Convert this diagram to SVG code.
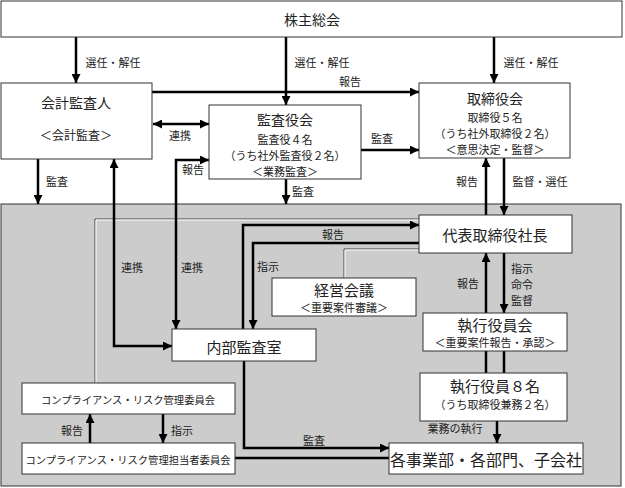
<svg xmlns="http://www.w3.org/2000/svg" width="625" height="488" viewBox="0 0 625 488">
<style>
text{font-family:"Noto Sans CJK JP","Noto Sans CJK SC",sans-serif;fill:#222;text-anchor:middle;dominant-baseline:central}
.box{fill:#fff;stroke:#333;stroke-width:1}
.t14{font-size:14px}.t15{font-size:15px}.t16{font-size:16px}.t12{font-size:12px}.t11{font-size:11px}.t10{font-size:10.3px}.lb{font-size:11px}
.ar{fill:none;stroke:#000;stroke-width:2.5}
.ld{fill:none;stroke:#444;stroke-width:1}
.lw{fill:none;stroke:#fff;stroke-width:1}
</style>
<defs>
<marker id="ah" viewBox="0 0 10 10" refX="10" refY="5" markerWidth="9" markerHeight="9" markerUnits="userSpaceOnUse" orient="auto-start-reverse"><path d="M0,0 L10,5 L0,10 z" fill="#000"/></marker>
</defs>
<rect id="area" x="1" y="204" width="620" height="282" fill="#cccccc" stroke="#333" stroke-width="1"/>
<g id="light-lines">
<path class="ld" d="M95,383 V219 H419"/>
<path class="lw" d="M96,383 V220 H419"/>
<path class="ld" d="M344,278 V249 H419"/>
<path class="lw" d="M345,278 V250 H419"/>
</g>
<g id="connectors">
<path class="ar" d="M76,37 V83" marker-end="url(#ah)"/>
<path class="ar" d="M286,37 V105" marker-end="url(#ah)"/>
<path class="ar" d="M494,37 V83" marker-end="url(#ah)"/>
<path class="ar" d="M152,92 H419" marker-end="url(#ah)"/>
<path class="ar" d="M153,124 H209" marker-start="url(#ah)" marker-end="url(#ah)"/>
<path class="ar" d="M361,150 H419" marker-end="url(#ah)"/>
<path class="ar" d="M38,159 V204" marker-end="url(#ah)"/>
<path class="ar" d="M286,179 V204" marker-end="url(#ah)"/>
<path class="ar" d="M486,215 V158" marker-end="url(#ah)"/>
<path class="ar" d="M504,158 V215" marker-end="url(#ah)"/>
<path class="ar" d="M114,159 V346 H172" marker-start="url(#ah)" marker-end="url(#ah)"/>
<path class="ar" d="M176,329 V160 H209" marker-start="url(#ah)" marker-end="url(#ah)"/>
<path class="ar" d="M243,329 V225 H419" marker-end="url(#ah)"/>
<path class="ar" d="M419,243 H253 V329" marker-end="url(#ah)"/>
<path class="ar" d="M486,313 V253" marker-end="url(#ah)"/>
<path class="ar" d="M504,253 V313" marker-end="url(#ah)"/>
<path class="ar" d="M486,351 V373 M504,351 V373"/>
<path class="ar" d="M497,421 V443" marker-end="url(#ah)"/>
<path class="ar" d="M244,361 V448 H389" marker-end="url(#ah)"/>
<path class="ar" d="M235,458 H389"/>
<path class="ar" d="M90,443 V414" marker-end="url(#ah)"/>
<path class="ar" d="M163,414 V443" marker-end="url(#ah)"/>
</g>
<g id="labels">
<text class="lb" x="113" y="62">選任・解任</text>
<text class="lb" x="322" y="62">選任・解任</text>
<text class="lb" x="531" y="62">選任・解任</text>
<text class="lb" x="350" y="81">報告</text>
<text class="lb" x="180" y="135">連携</text>
<text class="lb" x="382" y="138">監査</text>
<text class="lb" x="57" y="181">監査</text>
<text class="lb" x="303" y="191">監査</text>
<text class="lb" x="467" y="181">報告</text>
<text class="lb" x="540" y="181">監督・選任</text>
<text class="lb" x="193" y="169">報告</text>
<text class="lb" x="132" y="267">連携</text>
<text class="lb" x="192" y="267">連携</text>
<text class="lb" x="333" y="234">報告</text>
<text class="lb" x="268" y="266">指示</text>
<text class="lb" x="468" y="283">報告</text>
<text class="lb" x="522" y="268">指示</text>
<text class="lb" x="522" y="284">命令</text>
<text class="lb" x="522" y="300">監督</text>
<text class="lb" x="72" y="430">報告</text>
<text class="lb" x="182" y="430">指示</text>
<text class="lb" x="314" y="440">監査</text>
<text class="lb" x="455" y="428">業務の執行</text>
</g>
<g id="n-kabunushi"><rect class="box" x="1" y="1" width="621" height="36"/><text class="t14" x="312" y="19">株主総会</text></g>
<g id="n-kaikei"><rect class="box" x="1" y="83" width="151" height="76"/><text class="t14" x="76" y="102">会計監査人</text><text class="t12" x="76" y="134">＜会計監査＞</text></g>
<g id="n-kansayaku"><rect class="box" x="209" y="105" width="152" height="74"/><text class="t14" x="285" y="119">監査役会</text><text class="t11" x="285" y="139">監査役４名</text><text class="t11" x="285" y="155">（うち社外監査役２名）</text><text class="t11" x="285" y="171">＜業務監査＞</text></g>
<g id="n-torishimariyaku"><rect class="box" x="419" y="83" width="151" height="75"/><text class="t14" x="495" y="98">取締役会</text><text class="t11" x="495" y="117">取締役５名</text><text class="t11" x="495" y="133">（うち社外取締役２名）</text><text class="t11" x="495" y="149">＜意思決定・監督＞</text></g>
<g id="n-daihyo"><rect class="box" x="419" y="215" width="153" height="38"/><text class="t15" x="495" y="234">代表取締役社長</text></g>
<g id="n-keiei"><rect class="box" x="272" y="278" width="144" height="38"/><text class="t15" x="344" y="289">経営会議</text><text class="t11" x="344" y="307">＜重要案件審議＞</text></g>
<g id="n-shikkoukai"><rect class="box" x="423" y="313" width="144" height="38"/><text class="t15" x="495" y="324">執行役員会</text><text class="t11" x="495" y="342">＜重要案件報告・承認＞</text></g>
<g id="n-naibu"><rect class="box" x="172" y="329" width="144" height="32"/><text class="t15" x="244" y="346">内部監査室</text></g>
<g id="n-shikkou8"><rect class="box" x="420" y="373" width="147" height="48"/><text class="t15" x="495" y="385">執行役員８名</text><text class="t11" x="495" y="404">（うち取締役兼務２名）</text></g>
<g id="n-comp"><rect class="box" x="22" y="383" width="213" height="31"/><text class="t10" x="128" y="399">コンプライアンス・リスク管理委員会</text></g>
<g id="n-comp2"><rect class="box" x="22" y="443" width="213" height="31"/><text class="t10" x="128" y="459">コンプライアンス・リスク管理担当者委員会</text></g>
<g id="n-jigyo"><rect class="box" x="389" y="443" width="194" height="31"/><text class="t16" x="486" y="459">各事業部・各部門、子会社</text></g>
</svg>
